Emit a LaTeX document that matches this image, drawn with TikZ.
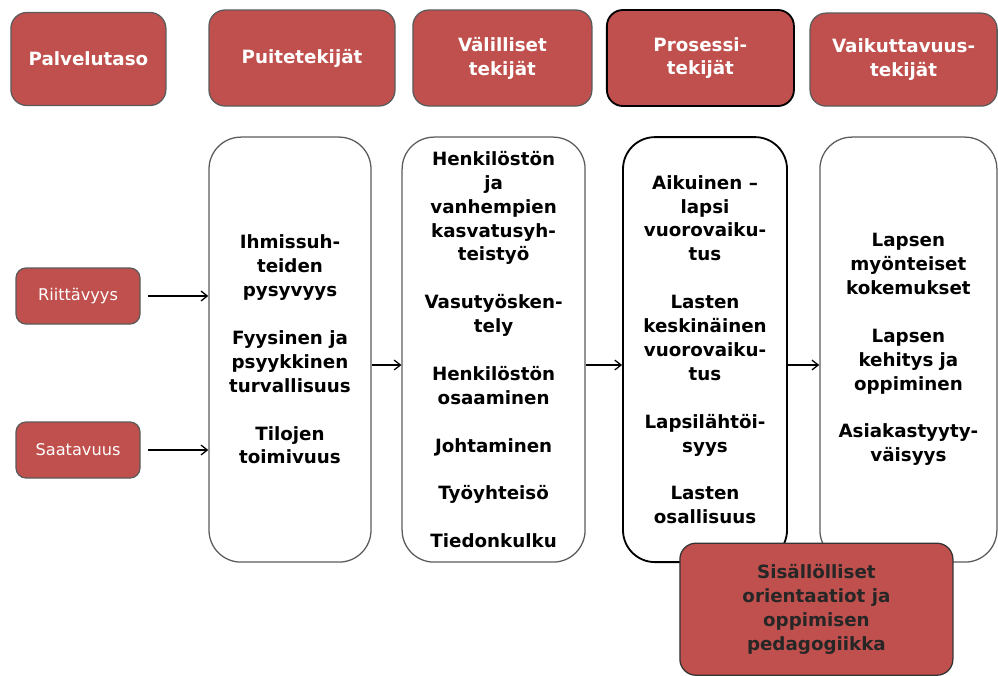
\documentclass[tikz,border=0pt]{standalone}
\usepackage{fontspec}
\setmainfont{DejaVu Sans}
\usetikzlibrary{arrows.meta}
\definecolor{boxred}{RGB}{192,80,77}
\definecolor{boxline}{RGB}{90,90,90}
\tikzset{
  header/.style={
    draw=boxline,
    fill=boxred,
    line width=0.9pt,
    rounded corners=0.4cm,
    inner sep=0pt,
    align=center,
    text=white,
    font=\fontsize{13}{17}\selectfont\bfseries
  },
  key header/.style={
    header,
    draw=black,
    line width=1.3pt
  },
  level/.style={
    header,
    rounded corners=0.25cm,
    minimum width=3.1cm,
    minimum height=1.4cm,
    font=\fontsize{11.5}{13}\selectfont
  },
  factors/.style={
    draw=boxline,
    line width=0.9pt,
    rounded corners=0.8cm,
    inner sep=0pt,
    align=center,
    minimum height=10.625cm,
    font=\fontsize{13}{17}\selectfont\bfseries
  },
  key factors/.style={
    factors,
    draw=black,
    line width=1.3pt
  },
  content/.style={
    header,
    draw=black!80,
    text=black!85
  }
}

\begin{document}
\begin{tikzpicture}[>={Straight Barb[length=4.5pt,width=7pt]}, line width=0.9pt]
    \useasboundingbox (0,0) rectangle (24.95,-16.875);
    % headers
    \node[header, minimum width=3.875cm, minimum height=2.325cm] at (2.21,-1.475) (palvelu) {Palvelutaso};
    \node[header, minimum width=4.65cm, minimum height=2.4cm] at (7.55,-1.45) (puite) {Puitetekijät};
    \node[header, minimum width=4.475cm, minimum height=2.4cm] at (12.56,-1.45) (valil) {Välilliset\\tekijät};
    \node[key header, minimum width=4.675cm, minimum height=2.4cm] at (17.51,-1.45) (prosessi) {Prosessi-\\tekijät};
    \node[header, minimum width=4.675cm, minimum height=2.325cm] at (22.59,-1.49) (vaikutus) {Vaikuttavuus-\\tekijät};
    % service level
    \node[level] at (1.95,-7.4) (riitt) {Riittävyys};
    \node[level] at (1.95,-11.25) (saata) {Saatavuus};
    % factor columns
    \node[factors, minimum width=4.05cm] at (7.25,-8.74) (b1) {Ihmissuh-\\teiden\\pysyvyys\\[17pt]Fyysinen ja\\psyykkinen\\turvallisuus\\[17pt]Tilojen\\toimivuus};
    \node[factors, minimum width=4.575cm] at (12.34,-8.74) (b2) {Henkilöstön\\ja\\vanhempien\\kasvatusyh-\\teistyö\\[17pt]Vasutyösken-\\tely\\[17pt]Henkilöstön\\osaaminen\\[17pt]Johtaminen\\[17pt]Työyhteisö\\[17pt]Tiedonkulku};
    \node[key factors, minimum width=4.1cm] at (17.625,-8.74) (b3) {Aikuinen –\\lapsi\\vuorovaiku-\\tus\\[17pt]Lasten\\keskinäinen\\vuorovaiku-\\tus\\[17pt]Lapsilähtöi-\\syys\\[17pt]Lasten\\osallisuus};
    \node[factors, minimum width=4.425cm] at (22.71,-8.74) (b4) {Lapsen\\myönteiset\\kokemukset\\[17pt]Lapsen\\kehitys ja\\oppiminen\\[17pt]Asiakastyyty-\\väisyys};
    \node[content, minimum width=6.825cm, minimum height=3.3cm] at (20.41,-15.23) (sisalto) {Sisällölliset\\orientaatiot ja\\oppimisen\\pedagogiikka};
    \coordinate (flow) at (0,-9.125);
    \path[->, shorten <=0.175cm]
      (riitt) edge (riitt -| b1.west)
      (saata) edge (saata -| b1.west);
    \path[->]
      (b1.east |- flow) edge (b2.west |- flow)
      (b2.east |- flow) edge (b3.west |- flow)
      (b3.east |- flow) edge (b4.west |- flow);
  \end{tikzpicture}
\end{document}
